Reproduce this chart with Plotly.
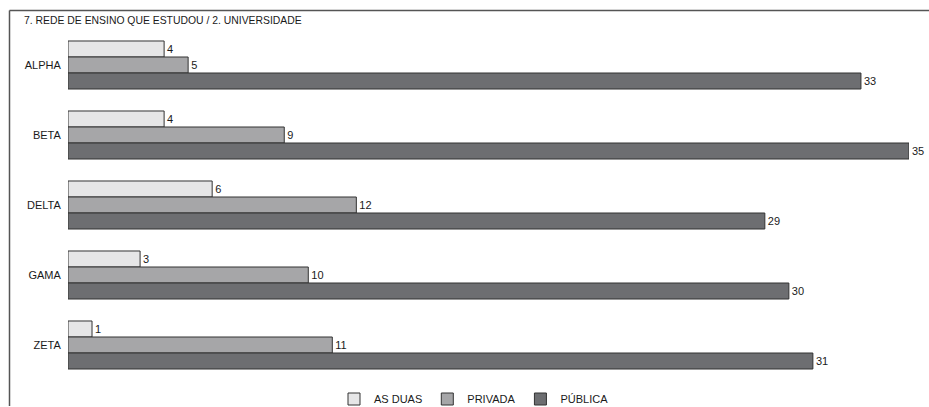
import plotly.graph_objects as go

categories = ["ALPHA", "BETA", "DELTA", "GAMA", "ZETA"]
series_names = ["AS DUAS", "PRIVADA", "PÚBLICA"]
as_duas = [4, 4, 6, 3, 1]
privada = [5, 9, 12, 10, 11]
publica = [33, 35, 29, 30, 31]
title_text = "7. REDE DE ENSINO QUE ESTUDOU / 2. UNIVERSIDADE"

colors = ["#e6e6e7", "#a6a6a8", "#6d6e71"]
values = [as_duas, privada, publica]

W, H = 929, 407
ml, mr, mt, mb = 68, 20, 30, 27
pw, ph = W - ml - mr, H - mt - mb

def px_x(p):
    return (p - ml) / pw

def px_y(p):
    return (H - mb - p) / ph

font = "Liberation Sans, Arial, sans-serif"

fig = go.Figure()
for name, vals, col in zip(series_names, values, colors):
    fig.add_trace(go.Bar(
        y=categories, x=vals, name=name, orientation="h",
        marker=dict(color=col, line=dict(color="#333333", width=1)),
        text=[str(v) for v in vals], textposition="outside",
        textfont=dict(size=11, color="#1a1a1a", family=font),
        cliponaxis=False,
    ))

fig.update_layout(
    width=W, height=H,
    margin=dict(l=ml, r=mr, t=mt, b=mb, pad=0, autoexpand=False),
    paper_bgcolor="white", plot_bgcolor="white",
    barmode="group", bargap=0.314, bargroupgap=0,
    font=dict(family=font, size=11, color="#1a1a1a"),
    xaxis=dict(range=[0, 35], visible=False, showgrid=False, zeroline=False),
    yaxis=dict(categoryorder="array", categoryarray=categories, autorange="reversed",
               showgrid=False, zeroline=False, showline=False,
               ticks="outside", ticklen=4, tickcolor="rgba(0,0,0,0)",
               tickfont=dict(size=11, color="#1a1a1a", family=font)),
    showlegend=True,
    legend=dict(orientation="h", x=px_x(474), xanchor="center", y=px_y(399), yanchor="middle",
                font=dict(size=11, color="#1a1a1a", family=font),
                itemwidth=30, traceorder="normal", bgcolor="rgba(0,0,0,0)"),
    annotations=[dict(text=title_text, xref="paper", yref="paper", x=px_x(22), y=px_y(20),
                      xanchor="left", yanchor="middle", showarrow=False,
                      font=dict(size=10.4, color="#1a1a1a", family=font))],
    shapes=[
        dict(type="line", xref="paper", yref="paper", x0=px_x(9.5), x1=px_x(W + 2),
             y0=px_y(10.5), y1=px_y(10.5), line=dict(color="#555555", width=1.5)),
        dict(type="line", xref="paper", yref="paper", x0=px_x(9.5), x1=px_x(9.5),
             y0=px_y(10.5), y1=px_y(406), line=dict(color="#555555", width=1.5)),
    ],
)

fig.write_html("out.html")
